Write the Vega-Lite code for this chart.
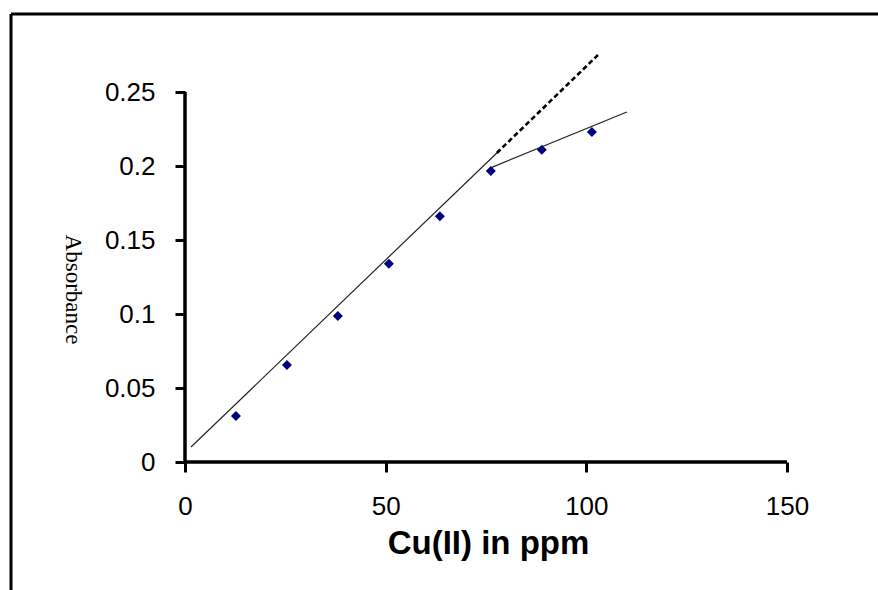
{
  "$schema": "https://vega.github.io/schema/vega-lite/v6.json",
  "width": 867,
  "height": 576,
  "autosize": {"type": "none"},
  "padding": {"left": 11, "top": 14, "right": 0, "bottom": 0},
  "background": "white",
  "config": {
    "view": {"stroke": null},
    "font": "Liberation Sans"
  },
  "datasets": {
    "points": [
      {"ppm": 12.7, "absorbance": 0.031},
      {"ppm": 25.4, "absorbance": 0.0655},
      {"ppm": 38.1, "absorbance": 0.0986},
      {"ppm": 50.8, "absorbance": 0.134},
      {"ppm": 63.5, "absorbance": 0.166},
      {"ppm": 76.2, "absorbance": 0.1966},
      {"ppm": 88.9, "absorbance": 0.211},
      {"ppm": 101.4, "absorbance": 0.223}
    ],
    "lines": [
      {"series": "fit1", "ppm": 1.5, "absorbance": 0.0101},
      {"series": "fit1", "ppm": 77.7, "absorbance": 0.2088},
      {"series": "fit2", "ppm": 76.0, "absorbance": 0.1986},
      {"series": "fit2", "ppm": 110.1, "absorbance": 0.2365},
      {"series": "ext", "ppm": 77.7, "absorbance": 0.2088},
      {"series": "ext", "ppm": 102.9, "absorbance": 0.275}
    ],
    "one": [{}]
  },
  "layer": [
    {
      "data": {"name": "lines"},
      "transform": [{"filter": "datum.series !== 'ext'"}],
      "mark": {"type": "line", "color": "#222222", "strokeWidth": 1.2},
      "encoding": {
        "x": {
          "field": "ppm", "type": "quantitative",
          "scale": {"domain": [-43.355, 172.675], "nice": false, "zero": false},
          "axis": {
            "orient": "bottom", "offset": -128, "domain": false, "grid": false,
            "values": [0, 50, 100, 150], "format": "d",
            "tickSize": 10, "tickWidth": 3, "tickColor": "black",
            "labelFontSize": 26, "labelFont": "Liberation Sans", "labelColor": "black",
            "labelPadding": 21, "labelFlush": false, "labelOverlap": false,
            "title": "Cu(II) in ppm", "titleFont": "Liberation Sans", "titleFontSize": 33,
            "titleFontWeight": "bold", "titleColor": "black",
            "titleX": 477, "titleY": 91, "titleAlign": "center", "titleBaseline": "alphabetic"
          }
        },
        "y": {
          "field": "absorbance", "type": "quantitative",
          "scale": {"domain": [-0.086486, 0.302703], "nice": false, "zero": false},
          "axis": {
            "orient": "left", "offset": -174, "domain": false, "grid": false,
            "values": [0, 0.05, 0.1, 0.15, 0.2, 0.25], "format": ".2~f",
            "tickSize": 10, "tickWidth": 3, "tickColor": "black",
            "labelFontSize": 26, "labelFont": "Liberation Sans", "labelColor": "black",
            "labelPadding": 20, "labelFlush": false, "labelOverlap": false,
            "title": "Absorbance", "titleFont": "Liberation Serif", "titleFontSize": 23,
            "titleFontWeight": "normal", "titleColor": "black", "titleAngle": 90,
            "titleX": -113, "titleY": 275, "titleAlign": "center", "titleBaseline": "middle"
          }
        },
        "detail": {"field": "series"}
      }
    },
    {
      "data": {"name": "lines"},
      "transform": [{"filter": "datum.series === 'ext'"}],
      "mark": {"type": "line", "color": "black", "strokeWidth": 2.6, "strokeDash": [5, 3]},
      "encoding": {
        "x": {"field": "ppm", "type": "quantitative"},
        "y": {"field": "absorbance", "type": "quantitative"}
      }
    },
    {
      "data": {"name": "one"},
      "mark": {"type": "rule", "color": "black", "strokeWidth": 3.5},
      "encoding": {
        "x": {"datum": 0, "type": "quantitative"},
        "x2": {"datum": 150},
        "y": {"datum": 0, "type": "quantitative"}
      }
    },
    {
      "data": {"name": "one"},
      "mark": {"type": "rule", "color": "black", "strokeWidth": 3.5},
      "encoding": {
        "x": {"datum": 0, "type": "quantitative"},
        "y": {"datum": 0, "type": "quantitative"},
        "y2": {"datum": 0.25}
      }
    },
    {
      "data": {"name": "one"},
      "mark": {"type": "rule", "color": "black", "strokeWidth": 3},
      "encoding": {
        "x": {"datum": -43.355, "type": "quantitative"},
        "x2": {"datum": 172.675},
        "y": {"datum": 0.302703, "type": "quantitative"}
      }
    },
    {
      "data": {"name": "one"},
      "mark": {"type": "rule", "color": "black", "strokeWidth": 3},
      "encoding": {
        "x": {"datum": -43.355, "type": "quantitative"},
        "y": {"datum": -0.086486, "type": "quantitative"},
        "y2": {"datum": 0.302703}
      }
    },
    {
      "data": {"name": "points"},
      "mark": {"type": "point", "shape": "diamond", "filled": true, "color": "#00007f", "size": 100, "opacity": 1},
      "encoding": {
        "x": {"field": "ppm", "type": "quantitative"},
        "y": {"field": "absorbance", "type": "quantitative"}
      }
    }
  ]
}
